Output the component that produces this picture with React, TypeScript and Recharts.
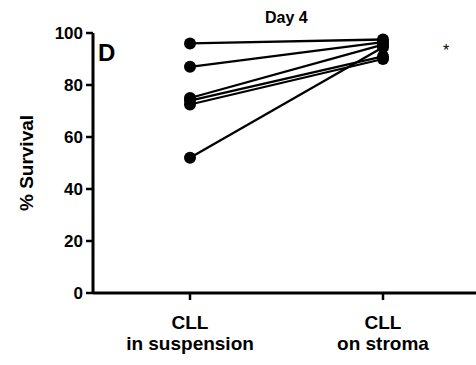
import React from "react";
import { LineChart, Line, XAxis, YAxis, Label } from "recharts";

const categories = ["CLL\nin suspension", "CLL\non stroma"];
const suspension = [96, 87, 75, 74, 72.5, 52];
const stroma = [97.5, 96.5, 95.5, 91, 90, 94.5];
const yTicks = [0, 20, 40, 60, 80, 100];

const data = categories.map((cat, i) => {
  const row: Record<string, string | number> = { cat };
  suspension.forEach((v, k) => {
    row[`s${k}`] = i === 0 ? v : stroma[k];
  });
  return row;
});

const FONT = "'Liberation Sans', Arial, sans-serif";

function XTick({ x, y, payload }: any) {
  const lines = String(payload.value).split("\n");
  return (
    <text
      x={x}
      y={y + 27}
      textAnchor="middle"
      fontFamily={FONT}
      fontWeight="bold"
      fontSize={19}
      fill="#000"
    >
      {lines.map((l, i) => (
        <tspan key={i} x={x} dy={i === 0 ? 0 : 21}>
          {l}
        </tspan>
      ))}
    </text>
  );
}

export default function App() {
  return (
    <div style={{ position: "absolute", left: 0, top: 0, width: 476, height: 365, background: "#fff" }}>
      <LineChart
        width={476}
        height={365}
        data={data}
        margin={{ top: 33, right: 0, bottom: 42, left: 33 }}
      >
        <XAxis
          dataKey="cat"
          height={30}
          padding={{ left: 97, right: 93 }}
          axisLine={{ stroke: "#000", strokeWidth: 3 }}
          tickLine={{ stroke: "#000", strokeWidth: 2.5 }}
          tickSize={7}
          tick={<XTick />}
          interval={0}
        />
        <YAxis
          width={60}
          domain={[0, 100]}
          ticks={yTicks}
          interval={0}
          axisLine={{ stroke: "#000", strokeWidth: 3 }}
          tickLine={{ stroke: "#000", strokeWidth: 2.5 }}
          tickSize={7}
          tickMargin={3}
          tick={{ fill: "#000", fontFamily: FONT, fontWeight: "bold", fontSize: 17 }}
        >
          <Label
            value="% Survival"
            angle={-90}
            position="insideLeft"
            offset={-7}
            style={{ textAnchor: "middle", fill: "#000", fontFamily: FONT, fontWeight: "bold", fontSize: 19 }}
          />
        </YAxis>
        {suspension.map((_, k) => (
          <Line
            key={k}
            dataKey={`s${k}`}
            stroke="#000"
            strokeWidth={2.3}
            dot={{ r: 6, fill: "#000", stroke: "#000", strokeWidth: 0 }}
            isAnimationActive={false}
          />
        ))}
      </LineChart>
      <div style={{ position: "absolute", left: 265, top: 9, fontFamily: FONT, fontWeight: "bold", fontSize: 16 }}>
        Day 4
      </div>
      <div style={{ position: "absolute", left: 98, top: 39, fontFamily: FONT, fontWeight: "bold", fontSize: 24 }}>
        D
      </div>
      <div style={{ position: "absolute", left: 443, top: 42, fontFamily: FONT, fontSize: 16, color: "#000" }}>
        *
      </div>
    </div>
  );
}
